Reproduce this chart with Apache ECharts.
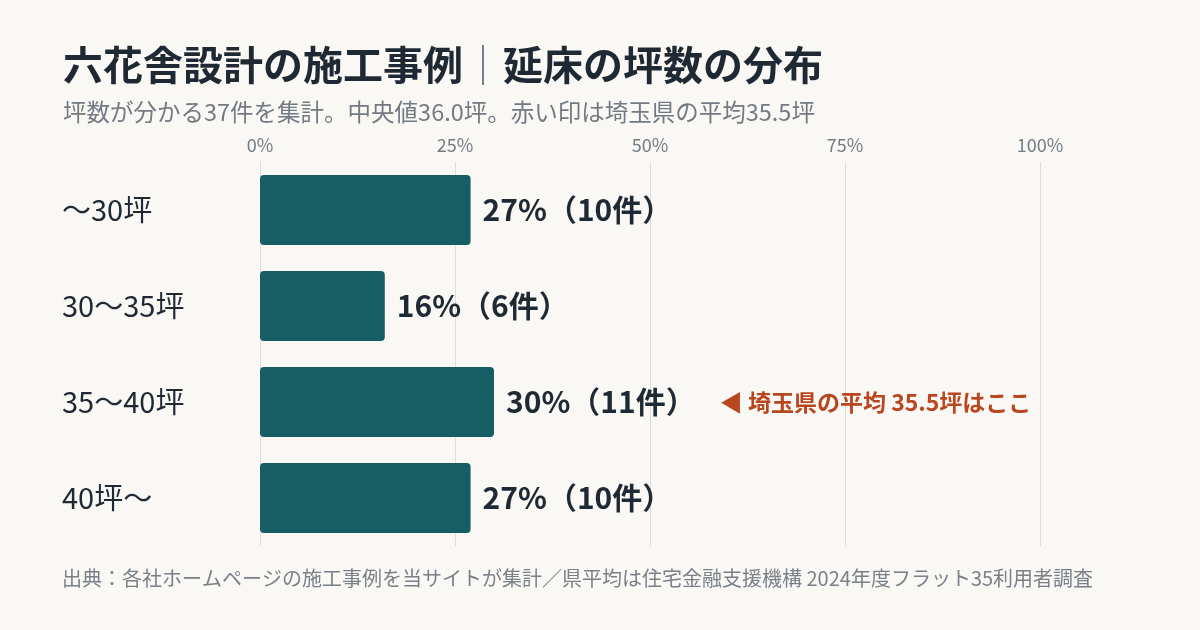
<!DOCTYPE html>
<html><head><meta charset="utf-8">
<script src="https://cdn.jsdelivr.net/npm/echarts@6/dist/echarts.min.js"></script>
<style>html,body{margin:0;padding:0;background:#F9F8F5;}#c{width:1200px;height:630px;}</style>
</head><body><div id="c"></div>
<script>
var categories = ['～30坪', '30～35坪', '35～40坪', '40坪～'];
var percents = [27, 16, 30, 27];
var counts = [10, 6, 11, 10];
var tickValues = [0, 25, 50, 75, 100];
var annotationIndex = 2;
var annotationText = '◀ 埼玉県の平均 35.5坪はここ';
var titleText = '六花舎設計の施工事例';
var titleText2 = '延床の坪数の分布';
var subText = '坪数が分かる37件を集計。中央値36.0坪。赤い印は埼玉県の平均35.5坪';
var footText = '出典：各社ホームページの施工事例を当サイトが集計／県平均は住宅金融支援機構 2024年度フラット35利用者調査';

var FONT = '"Noto Sans CJK JP", "Noto Sans", sans-serif';
var chart = echarts.init(document.getElementById('c'));
chart.setOption({
  backgroundColor: '#F9F8F5',
  textStyle: { fontFamily: FONT },
  title: {
    left: 58, top: 39,
    text: '{a|' + titleText + '}{b|｜}{a|' + titleText2 + '}',
    textStyle: {
      rich: {
        a: { fontSize: 40, lineHeight: 42, fontWeight: 'bold', color: '#1F2933', fontFamily: FONT },
        b: { fontSize: 40, lineHeight: 42, fontWeight: 'normal', color: '#5F6A75', fontFamily: FONT }
      }
    },
    subtext: subText,
    subtextStyle: { fontSize: 23.5, lineHeight: 26, color: '#737A82', fontFamily: FONT },
    itemGap: 15
  },
  graphic: [{
    type: 'text', left: 62, top: 568,
    style: { text: footText, fontSize: 20, fill: '#7A8088', fontFamily: FONT }
  }],
  grid: { left: 260, right: 160, top: 162, bottom: 84 },
  xAxis: {
    type: 'value', position: 'top', min: 0, max: 100, interval: 25,
    axisLine: { show: false }, axisTick: { show: false },
    axisLabel: { formatter: '{value}%', color: '#737B85', fontSize: 18, margin: 8, fontFamily: FONT },
    splitLine: { show: true, lineStyle: { color: '#DEDDD8', width: 1 } }
  },
  yAxis: {
    type: 'category', inverse: true, data: categories,
    axisLine: { show: false }, axisTick: { show: false },
    axisLabel: { align: 'left', margin: 198, fontSize: 29, color: '#1F2933', fontFamily: FONT }
  },
  series: [{
    type: 'bar', barWidth: 70,
    data: percents.map(function (p, i) { return { value: p, count: counts[i] }; }),
    itemStyle: { color: '#165E63', borderRadius: 4 },
    label: {
      show: true, position: 'right', distance: 12,
      formatter: function (p) {
        var s = '{v|' + p.value + '%（' + counts[p.dataIndex] + '件）}';
        if (p.dataIndex === annotationIndex) s += '{a|' + annotationText + '}';
        return s;
      },
      rich: {
        v: { fontSize: 30, fontWeight: 'bold', color: '#1F2933', fontFamily: FONT },
        a: { fontSize: 23, fontWeight: 'bold', color: '#B8461F', fontFamily: FONT, padding: [0, 0, 0, 24] }
      }
    }
  }]
});
</script></body></html>
